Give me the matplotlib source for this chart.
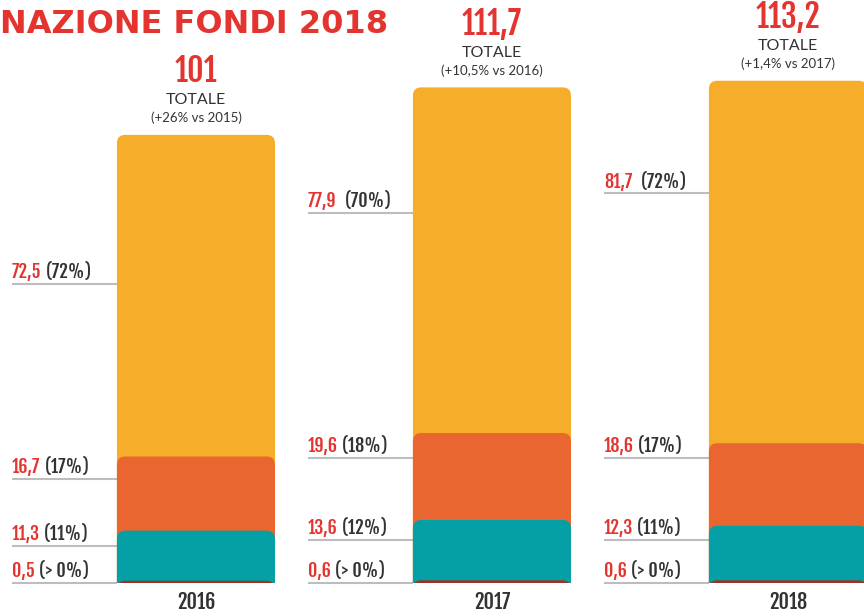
import matplotlib
matplotlib.use("Agg")
import matplotlib.pyplot as plt
from matplotlib.patches import FancyBboxPatch, Rectangle

# Dati (milioni)
years = ["2016", "2017", "2018"]
altro = [0.5, 0.6, 0.6]
quota_teal = [11.3, 13.6, 12.3]
quota_orange = [16.7, 19.6, 18.6]
quota_yellow = [72.5, 77.9, 81.7]
pct_altro = ["> 0%", "> 0%", "> 0%"]
pct_teal = ["11%", "12%", "11%"]
pct_orange = ["17%", "18%", "17%"]
pct_yellow = ["72%", "70%", "72%"]
totals = [101, 111.7, 113.2]
changes = ["+26% vs 2015", "+10,5% vs 2016", "+1,4% vs 2017"]

# Colori
RED = "#E3342F"
DARK = "#333333"
LINE = "#BDBDBD"
colors = ["#9E3324", "#04A0A6", "#E96630", "#F5AD2A"]

NARROW = ["Fjalla One", "Oswald", "DejaVu Sans"]
GILL = ["Lato", "DejaVu Sans"]
plt.rcParams["font.family"] = GILL

def fmt(v):
    s = f"{v:.1f}".replace(".", ",")
    return s[:-2] if s.endswith(",0") else s

fig = plt.figure(figsize=(8.64, 6.16), dpi=100)
ax = fig.add_axes([0, 0, 1, 1])
ax.set_xlim(-0.662, 2.257)
ax.set_ylim(-7.44, 131.4)
ax.axis("off")

# rapporto px tra asse x e asse y, per gli angoli arrotondati
x0, x1 = ax.get_xlim()
y0, y1 = ax.get_ylim()
aspect = (864 / (x1 - x0)) / (616 / (y1 - y0))

bar_w = 0.534
lead = 0.355
# altezza delle linee guida per ogni etichetta (yellow, orange, teal, altro)
label_y = [
    [67.5, 23.5, 8.4, 0],
    [83.5, 28.2, 9.7, 0],
    [87.8, 28.2, 9.7, 0],
]

clip = Rectangle((x0, 0), x1 - x0, y1, transform=ax.transData)

for i, year in enumerate(years):
    stacks = [altro[i], quota_teal[i], quota_orange[i], quota_yellow[i]]
    tops = []
    acc = 0
    for v in stacks:
        acc += v
        tops.append(acc)
    left = i - bar_w / 2

    # dal segmento piu alto al piu basso, cosi gli angoli arrotondati restano visibili
    for top, c in reversed(list(zip(tops, colors))):
        p = FancyBboxPatch((left, -5), bar_w, top + 5,
                           boxstyle="round,pad=0,rounding_size=0.028",
                           mutation_aspect=aspect, fc=c, ec="none", zorder=2)
        ax.add_patch(p)
        p.set_clip_path(clip)

    # etichette a sinistra
    vals = [quota_yellow[i], quota_orange[i], quota_teal[i], altro[i]]
    pcts = [pct_yellow[i], pct_orange[i], pct_teal[i], pct_altro[i]]
    for k, (v, pc) in enumerate(zip(vals, pcts)):
        ly = label_y[i][k]
        ax.plot([left - lead, left], [ly, ly], color=LINE, lw=1.5, zorder=1,
                solid_capstyle="butt")
        t = ax.annotate(fmt(v), (left - lead, ly), xytext=(0, 4),
                        textcoords="offset points", ha="left", va="baseline",
                        color=RED, fontsize=13, family=NARROW)
        gap = 6 if k == 0 and i > 0 else 3
        ax.annotate(f"({pc})", xy=(1, 0), xycoords=t, xytext=(gap, 0),
                    textcoords="offset points", ha="left", va="bottom",
                    color=DARK, fontsize=13, family=NARROW)

    # totale sopra la barra
    ax.annotate(fmt(totals[i]), (i, tops[-1]), xytext=(0, 46),
                textcoords="offset points", ha="center", va="center",
                color=RED, fontsize=23, family=NARROW)
    ax.annotate("TOTALE", (i, tops[-1]), xytext=(0, 25),
                textcoords="offset points", ha="center", va="center",
                color=DARK, fontsize=11.5)
    ax.annotate(f"({changes[i]})", (i, tops[-1]), xytext=(0, 12),
                textcoords="offset points", ha="center", va="center",
                color=DARK, fontsize=9.5)

    # anno sotto la barra
    ax.annotate(year, (i, 0), xytext=(0, -14), textcoords="offset points",
                ha="center", va="center", color=DARK, fontsize=14.5,
                family=NARROW)

fig.text(0.0, 0.961, "NAZIONE FONDI 2018", ha="left", va="center",
         color=RED, fontsize=23, fontweight="bold", family=["DejaVu Sans"])

fig.savefig("out.png", dpi=100)
